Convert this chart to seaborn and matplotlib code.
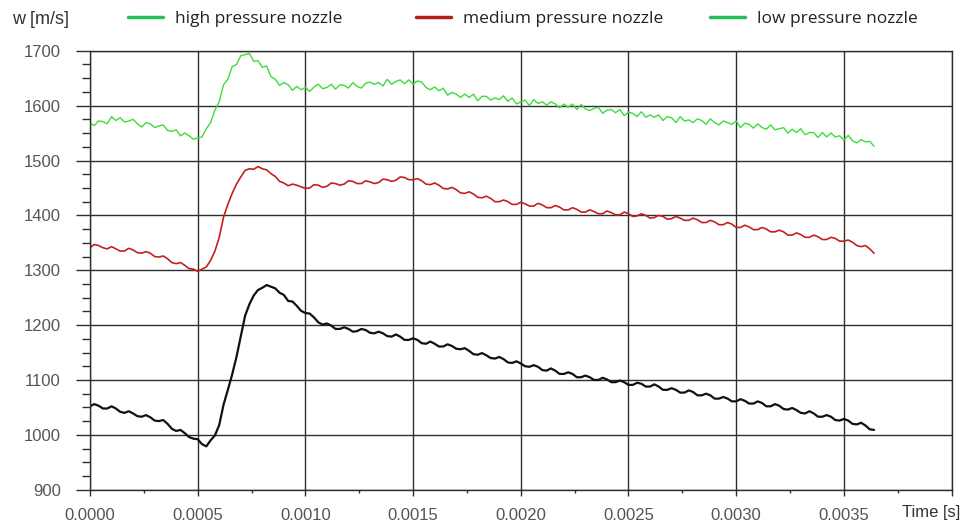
import numpy as np
import pandas as pd
import matplotlib
matplotlib.use("Agg")
import matplotlib.pyplot as plt
from matplotlib.lines import Line2D
from matplotlib.ticker import MultipleLocator
import seaborn as sns

# Daten: Geschwindigkeit w [m/s], Abtastung alle 0.00002 s
dt = 0.00002

high_w = [
    1567, 1564, 1572, 1571, 1567, 1580, 1573, 1578, 1570, 1572,
    1575, 1567, 1561, 1569, 1567, 1560, 1563, 1565, 1555, 1553,
    1556, 1545, 1550, 1545, 1539,
    1541, 1543, 1558, 1569, 1592, 1607,
    1638, 1648, 1671, 1675, 1691, 1693, 1695, 1681, 1682, 1670,
    1672, 1653, 1648, 1637, 1642, 1638, 1628, 1635, 1629, 1633,
    1626, 1634, 1639, 1631, 1633, 1639, 1630, 1638, 1637, 1632,
    1642, 1635, 1632, 1641, 1643, 1639, 1642, 1636, 1648, 1639,
    1644, 1647, 1640, 1647, 1639, 1645, 1643, 1633, 1629, 1634,
    1627, 1632, 1619, 1624, 1621, 1615, 1621, 1615, 1621, 1609,
    1617, 1617, 1610, 1614, 1611, 1618, 1608, 1614, 1603, 1607,
    1610, 1600, 1611, 1604, 1607, 1601, 1607, 1603, 1596, 1603,
    1597, 1603, 1593, 1602, 1594, 1591, 1595, 1597, 1586, 1592,
    1593, 1587, 1593, 1582, 1588, 1586, 1580, 1589, 1579, 1583,
    1579, 1583, 1573, 1580, 1578, 1569, 1580, 1572, 1574, 1569,
    1576, 1573, 1566, 1576, 1569, 1565, 1572, 1569, 1566, 1572,
    1560, 1568, 1566, 1559, 1567, 1560, 1557, 1565, 1556, 1558,
    1560, 1550, 1557, 1551, 1558, 1547, 1551, 1551, 1542, 1551,
    1543, 1550, 1543, 1545, 1537, 1546, 1536, 1532, 1538, 1534,
    1535, 1526,
]

medium_w = [
    1341, 1347, 1345, 1341, 1339, 1343, 1339, 1335, 1335, 1340,
    1337, 1332, 1331, 1334, 1331, 1325, 1324, 1326, 1321, 1314,
    1312, 1314, 1309, 1303, 1302, 1298, 1302, 1306,
    1318, 1335, 1360, 1397, 1420, 1440, 1457, 1470,
    1482, 1485, 1484, 1489, 1485, 1483, 1476, 1471, 1462, 1459,
    1454, 1457, 1455, 1452, 1449,
    1450, 1456, 1455, 1451, 1453, 1459, 1458, 1455, 1457, 1463,
    1462, 1458, 1458, 1463, 1461, 1458, 1460, 1466, 1465, 1462,
    1464, 1470, 1469, 1465, 1465, 1467, 1463, 1457, 1456, 1459,
    1455, 1449, 1448, 1451, 1447, 1441, 1440, 1443, 1439, 1433,
    1432, 1435, 1431, 1425, 1425, 1428, 1425, 1420, 1420, 1424,
    1421, 1417, 1417, 1422, 1419, 1414, 1414, 1418, 1415, 1410,
    1410, 1414, 1411, 1406, 1406, 1410, 1407, 1403, 1403, 1408,
    1405, 1401, 1401, 1406, 1403, 1398, 1399, 1403, 1400, 1395,
    1396, 1400, 1398, 1393, 1394, 1398, 1395, 1391, 1391, 1395,
    1392, 1387, 1387, 1391, 1388, 1383, 1383, 1387, 1384, 1378,
    1378, 1382, 1379, 1374, 1374, 1378, 1375, 1370, 1370, 1373,
    1370, 1364, 1364, 1368, 1365, 1360, 1360, 1364, 1361, 1356,
    1356, 1360, 1358, 1353, 1353, 1355, 1351, 1345, 1343, 1345,
    1339, 1331,
]

low_w = [
    1052, 1056, 1053, 1048, 1048, 1052, 1048, 1042, 1040, 1043,
    1039, 1034, 1033, 1036, 1032, 1026, 1025, 1027, 1020, 1011,
    1007, 1009, 1003, 996, 993, 992, 983, 979, 990, 999,
    1018, 1055, 1082, 1110, 1142, 1180, 1217, 1238, 1254, 1264,
    1268, 1273, 1270, 1267, 1259, 1255, 1244, 1243, 1235, 1226,
    1222, 1221, 1214, 1205, 1201, 1203, 1199, 1193, 1193, 1196,
    1193, 1188, 1189, 1193, 1191, 1186, 1185, 1188, 1185, 1180,
    1179, 1183, 1179, 1173, 1173, 1176, 1173, 1167, 1166, 1170,
    1166, 1161, 1161, 1165, 1162, 1157, 1156, 1158, 1153, 1147,
    1146, 1149, 1145, 1140, 1139, 1142, 1138, 1132, 1131, 1134,
    1130, 1125, 1124, 1127, 1124, 1118, 1117, 1121, 1117, 1111,
    1111, 1114, 1111, 1105, 1105, 1108, 1105, 1100, 1100, 1104,
    1101, 1096, 1096, 1099, 1096, 1091, 1091, 1095, 1093, 1088,
    1088, 1092, 1088, 1082, 1082, 1085, 1082, 1077, 1077, 1081,
    1078, 1072, 1072, 1075, 1072, 1066, 1066, 1069, 1066, 1061,
    1061, 1065, 1062, 1057, 1057, 1061, 1058, 1052, 1052, 1056,
    1053, 1047, 1046, 1049, 1045, 1040, 1039, 1043, 1039, 1033,
    1033, 1036, 1033, 1027, 1026, 1029, 1026, 1020, 1019, 1022,
    1017, 1010, 1009,
]

labels = ["high pressure nozzle", "medium pressure nozzle", "low pressure nozzle"]
xtick_labels = ["0.0000", "0.0005", "0.0010", "0.0015", "0.0020", "0.0025", "0.0030", "0.0035", ""]

time = np.arange(len(high_w)) * dt
df = pd.DataFrame({"t": time, "high": high_w, "medium": medium_w, "low": low_w})

sns.set_style("white")
plt.rcParams["font.family"] = ["Liberation Sans", "DejaVu Sans"]

fig = plt.figure(figsize=(9.73, 5.29), dpi=100)
ax = fig.add_axes([0.0925, 0.0743, 0.8855, 0.8297])

sns.lineplot(data=df, x="t", y="high", ax=ax, color="#3ddc3d", lw=1.0)
sns.lineplot(data=df, x="t", y="medium", ax=ax, color="#c42020", lw=1.2)
sns.lineplot(data=df, x="t", y="low", ax=ax, color="#111111", lw=1.6)

ax.set_xlim(0, 0.004)
ax.set_ylim(900, 1700)
ax.set_xticks(np.arange(9) * 0.0005)
ax.set_xticklabels(xtick_labels)
ax.xaxis.set_minor_locator(MultipleLocator(0.00025))
ax.yaxis.set_major_locator(MultipleLocator(100))
ax.yaxis.set_minor_locator(MultipleLocator(25))
ax.set_xlabel("")
ax.set_ylabel("")

ax.grid(True, which="major", color="#2e2e2e", lw=1.0)
for s in ax.spines.values():
    s.set_color("#2e2e2e")
    s.set_linewidth(1.0)

ax.tick_params(axis="y", which="major", direction="out", length=10, width=1.0,
               color="#2e2e2e", pad=11, labelsize=12, labelcolor="#555555", left=True)
ax.tick_params(axis="y", which="minor", direction="out", length=6, width=1.0,
               color="#2e2e2e", left=True)
ax.tick_params(axis="x", which="major", direction="out", length=4.5, width=1.0,
               color="#2e2e2e", pad=9, labelsize=12, labelcolor="#555555", bottom=True)
ax.tick_params(axis="x", which="minor", direction="out", length=2, width=1.0,
               color="#2e2e2e", bottom=True)

fig.text(0.987, 1 - 512 / 529, "Time [s]", ha="right", va="center",
         fontsize=12, color="#333333")
fig.text(12 / 973, 1 - 20 / 529, "w [m/s]", ha="left", va="center",
         fontsize=13, color="#333333")

# Legende: drei einzelne Eintraege oben
leg_colors = ["#22c05a", "#b01e1e", "#22c05a"]
leg_x = [128, 416, 710]
for lab, col, xp in zip(labels, leg_colors, leg_x):
    h = Line2D([], [], color=col, lw=2.5)
    fig.legend(handles=[h], labels=[lab], loc="center left",
               bbox_to_anchor=(xp / 973, 1 - 19 / 529), frameon=False,
               borderpad=0, borderaxespad=0, handlelength=2.0, handletextpad=0.7,
               prop={"family": ["Open Sans", "DejaVu Sans"], "size": 12.5},
               labelcolor="#222222")

fig.savefig("out.png", dpi=100)
